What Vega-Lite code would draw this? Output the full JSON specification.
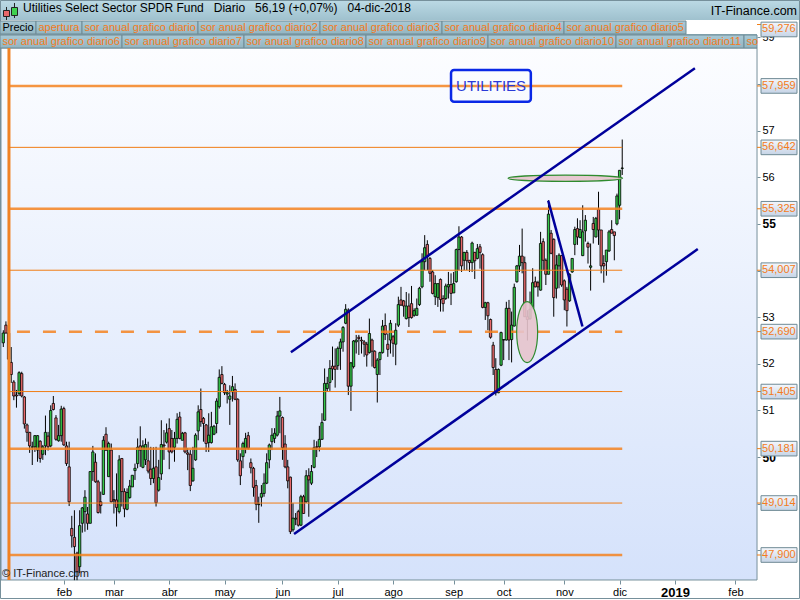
{"$schema":"https://vega.github.io/schema/vega-lite/v6.json","width":800,"height":600,"padding":0,"autosize":"none","background":"white",
"title":{"text":"Utilities Select Sector SPDR Fund\u00a0\u00a0\u00a0Diario\u00a0\u00a0\u00a056,19 (+0,07%)\u00a0\u00a0\u00a004-dic-2018","anchor":"start","frame":"group","orient":"top","offset":-15,"dx":23,"font":"Liberation Sans","fontSize":12,"fontWeight":"normal","color":"#000"},
"config":{"view":{"stroke":null},"axis":{"labelFont":"Liberation Sans","grid":false},"text":{"font":"Liberation Sans"}},
"datasets":{
"pestanas":[{"fila":1,"orden":0,"pestana":"Precio"},{"fila":1,"orden":1,"pestana":"apertura"},{"fila":1,"orden":2,"pestana":"sor anual grafico diario"},{"fila":1,"orden":3,"pestana":"sor anual grafico diario2"},{"fila":1,"orden":4,"pestana":"sor anual grafico diario3"},{"fila":1,"orden":5,"pestana":"sor anual grafico diario4"},{"fila":1,"orden":6,"pestana":"sor anual grafico diario5"},{"fila":2,"orden":0,"pestana":"sor anual grafico diario6"},{"fila":2,"orden":1,"pestana":"sor anual grafico diario7"},{"fila":2,"orden":2,"pestana":"sor anual grafico diario8"},{"fila":2,"orden":3,"pestana":"sor anual grafico diario9"},{"fila":2,"orden":4,"pestana":"sor anual grafico diario10"},{"fila":2,"orden":5,"pestana":"sor anual grafico diario11"},{"fila":2,"orden":6,"pestana":"so"}],
"niveles":[{"valor":47.9,"tipo":"grueso","etiqueta":"47,900"},{"valor":49.014,"tipo":"fino","etiqueta":"49,014"},{"valor":50.181,"tipo":"grueso","etiqueta":"50,181"},{"valor":51.405,"tipo":"fino","etiqueta":"51,405"},{"valor":52.69,"tipo":"discontinuo","etiqueta":"52,690"},{"valor":54.007,"tipo":"fino","etiqueta":"54,007"},{"valor":55.325,"tipo":"grueso","etiqueta":"55,325"},{"valor":56.642,"tipo":"fino","etiqueta":"56,642"},{"valor":57.959,"tipo":"grueso","etiqueta":"57,959"},{"valor":59.276,"tipo":"fuera","etiqueta":"59,276"}],
"lineas":[{"linea":"canal superior","n":110.2,"p":52.25},{"linea":"canal superior","n":263.6,"p":58.34},{"linea":"canal inferior","n":111.4,"p":48.35},{"linea":"canal inferior","n":264.7,"p":54.46},{"linea":"cuna","n":207.9,"p":55.5},{"linea":"cuna","n":220.9,"p":52.8}],
"velas":[
{"n":1,"o":52.45,"h":52.72,"l":52.36,"c":52.66},{"n":2,"o":52.83,"h":52.91,"l":52.65,"c":52.66},{"n":3,"o":52.66,"h":52.7,"l":52.05,"c":52.1},{"n":4,"o":52.03,"h":52.36,"l":51.59,"c":51.77},{"n":5,"o":51.61,"h":51.65,"l":51.22,"c":51.31},{"n":6,"o":51.33,"h":51.44,"l":51.06,"c":51.31},{"n":7,"o":51.36,"h":51.84,"l":51.31,"c":51.81},{"n":8,"o":51.79,"h":51.83,"l":51.28,"c":51.31},{"n":9,"o":51.29,"h":51.31,"l":50.61,"c":50.71},{"n":10,"o":50.69,"h":50.72,"l":50.33,"c":50.53},
{"n":11,"o":50.53,"h":50.54,"l":50.09,"c":50.24},{"n":12,"o":50.21,"h":50.33,"l":49.83,"c":50.22},{"n":13,"o":50.22,"h":50.47,"l":50.11,"c":50.46},{"n":14,"o":50.15,"h":50.47,"l":49.9,"c":50.46},{"n":15,"o":50.34,"h":50.36,"l":49.88,"c":49.97},{"n":16,"o":50.06,"h":50.26,"l":49.94,"c":50.22},{"n":17,"o":50.24,"h":50.89,"l":50.04,"c":50.53},{"n":18,"o":50.45,"h":50.54,"l":50.14,"c":50.22},{"n":19,"o":50.24,"h":51.11,"l":50.21,"c":51.0},{"n":20,"o":51.15,"h":51.31,"l":51.0,"c":51.02},
{"n":21,"o":50.84,"h":50.9,"l":50.35,"c":50.38},{"n":22,"o":50.35,"h":50.69,"l":50.33,"c":50.46},{"n":23,"o":50.46,"h":51.1,"l":50.33,"c":51.03},{"n":24,"o":51.04,"h":51.08,"l":50.24,"c":50.26},{"n":25,"o":50.24,"h":50.33,"l":49.81,"c":49.86},{"n":26,"o":49.79,"h":50.33,"l":48.95,"c":49.04},{"n":27,"o":48.47,"h":48.74,"l":48.06,"c":48.31},{"n":28,"o":48.28,"h":48.86,"l":47.36,"c":48.08},{"n":29,"o":47.94,"h":47.97,"l":47.36,"c":47.54},{"n":30,"o":47.65,"h":48.86,"l":47.51,"c":48.53},
{"n":31,"o":48.58,"h":48.93,"l":48.38,"c":48.91},{"n":32,"o":48.83,"h":49.29,"l":48.4,"c":49.14},{"n":33,"o":48.78,"h":48.93,"l":48.44,"c":48.58},{"n":34,"o":48.58,"h":49.69,"l":48.58,"c":49.69},{"n":35,"o":49.69,"h":50.24,"l":49.49,"c":50.11},{"n":36,"o":49.89,"h":50.08,"l":49.45,"c":49.47},{"n":37,"o":49.47,"h":49.51,"l":48.79,"c":48.81},{"n":38,"o":49.04,"h":49.26,"l":48.79,"c":48.96},{"n":39,"o":49.2,"h":50.45,"l":49.19,"c":50.36},{"n":40,"o":50.49,"h":50.64,"l":50.13,"c":50.15},
{"n":41,"o":49.58,"h":50.33,"l":49.58,"c":50.29},{"n":42,"o":50.15,"h":50.29,"l":49.03,"c":49.04},{"n":43,"o":49.09,"h":49.29,"l":48.79,"c":49.06},{"n":44,"o":49.08,"h":49.65,"l":48.51,"c":48.92},{"n":45,"o":48.83,"h":50.04,"l":48.79,"c":49.94},{"n":46,"o":49.97,"h":49.97,"l":48.94,"c":49.26},{"n":47,"o":49.26,"h":49.33,"l":48.71,"c":48.89},{"n":48,"o":48.88,"h":49.33,"l":48.86,"c":49.24},{"n":49,"o":49.13,"h":49.51,"l":49.11,"c":49.38},{"n":50,"o":49.36,"h":49.61,"l":49.36,"c":49.61},
{"n":51,"o":49.71,"h":49.86,"l":49.51,"c":49.76},{"n":52,"o":49.86,"h":50.4,"l":49.76,"c":50.21},{"n":53,"o":50.24,"h":50.66,"l":49.79,"c":50.15},{"n":54,"o":49.78,"h":50.36,"l":49.76,"c":50.24},{"n":55,"o":49.94,"h":50.4,"l":49.83,"c":50.27},{"n":56,"o":49.92,"h":50.33,"l":49.65,"c":49.7},{"n":57,"o":49.74,"h":50.22,"l":49.4,"c":49.54},{"n":58,"o":49.54,"h":50.21,"l":49.44,"c":49.76},{"n":59,"o":49.79,"h":50.22,"l":48.94,"c":49.02},{"n":60,"o":49.29,"h":49.94,"l":49.26,"c":49.56},
{"n":61,"o":49.64,"h":50.79,"l":49.51,"c":50.27},{"n":62,"o":50.26,"h":50.58,"l":49.94,"c":50.24},{"n":63,"o":50.32,"h":50.72,"l":50.29,"c":50.52},{"n":64,"o":50.61,"h":50.83,"l":49.74,"c":50.11},{"n":65,"o":50.4,"h":50.58,"l":50.08,"c":50.11},{"n":66,"o":50.21,"h":50.54,"l":49.9,"c":50.4},{"n":67,"o":50.4,"h":50.94,"l":50.29,"c":50.81},{"n":68,"o":50.86,"h":50.97,"l":50.38,"c":50.4},{"n":69,"o":50.36,"h":50.54,"l":50.36,"c":50.51},{"n":70,"o":50.52,"h":50.54,"l":50.08,"c":50.11},
{"n":71,"o":50.09,"h":50.19,"l":49.72,"c":50.06},{"n":72,"o":50.06,"h":50.15,"l":49.27,"c":49.39},{"n":73,"o":49.49,"h":50.22,"l":49.47,"c":49.76},{"n":74,"o":49.94,"h":50.51,"l":49.92,"c":50.47},{"n":75,"o":50.56,"h":51.11,"l":50.36,"c":50.97},{"n":76,"o":51.02,"h":51.47,"l":50.65,"c":50.76},{"n":77,"o":50.83,"h":50.86,"l":50.33,"c":50.72},{"n":78,"o":50.69,"h":50.71,"l":50.11,"c":50.29},{"n":79,"o":50.31,"h":50.94,"l":50.11,"c":50.47},{"n":80,"o":50.31,"h":50.97,"l":50.29,"c":50.65},
{"n":81,"o":50.49,"h":50.69,"l":50.47,"c":50.66},{"n":82,"o":50.72,"h":51.26,"l":50.51,"c":51.2},{"n":83,"o":51.08,"h":51.88,"l":51.04,"c":51.71},{"n":84,"o":51.77,"h":51.95,"l":51.56,"c":51.58},{"n":85,"o":51.56,"h":51.59,"l":51.33,"c":51.38},{"n":86,"o":51.35,"h":51.44,"l":51.15,"c":51.38},{"n":87,"o":51.24,"h":51.54,"l":50.69,"c":51.31},{"n":88,"o":51.4,"h":51.74,"l":51.19,"c":51.51},{"n":89,"o":51.45,"h":51.58,"l":51.22,"c":51.24},{"n":90,"o":51.24,"h":51.26,"l":49.9,"c":49.94},
{"n":91,"o":49.92,"h":50.08,"l":49.4,"c":49.6},{"n":92,"o":50.01,"h":50.33,"l":49.76,"c":50.29},{"n":93,"o":50.19,"h":50.52,"l":50.08,"c":50.4},{"n":94,"o":50.46,"h":50.54,"l":50.16,"c":50.19},{"n":95,"o":49.88,"h":49.97,"l":49.65,"c":49.77},{"n":96,"o":49.76,"h":49.79,"l":49.15,"c":49.35},{"n":97,"o":49.39,"h":49.51,"l":48.86,"c":48.99},{"n":98,"o":48.98,"h":49.15,"l":48.59,"c":48.99},{"n":99,"o":49.14,"h":49.4,"l":48.94,"c":49.22},{"n":100,"o":49.22,"h":49.65,"l":49.15,"c":49.44},
{"n":101,"o":49.44,"h":50.08,"l":49.42,"c":49.88},{"n":102,"o":49.94,"h":50.29,"l":49.76,"c":50.26},{"n":103,"o":50.33,"h":50.62,"l":50.15,"c":50.47},{"n":104,"o":50.4,"h":50.62,"l":50.3,"c":50.51},{"n":105,"o":50.47,"h":50.99,"l":50.44,"c":50.88},{"n":106,"o":50.88,"h":51.29,"l":50.51,"c":50.99},{"n":107,"o":50.85,"h":50.87,"l":49.94,"c":50.2},{"n":108,"o":50.28,"h":50.47,"l":49.76,"c":49.79},{"n":109,"o":49.79,"h":49.94,"l":49.33,"c":49.49},{"n":110,"o":49.57,"h":49.58,"l":48.35,"c":48.4},
{"n":111,"o":48.44,"h":49.01,"l":48.4,"c":48.69},{"n":112,"o":48.67,"h":48.8,"l":48.54,"c":48.69},{"n":113,"o":48.83,"h":48.87,"l":48.51,"c":48.54},{"n":114,"o":48.54,"h":49.19,"l":48.52,"c":49.15},{"n":115,"o":49.15,"h":49.19,"l":48.79,"c":48.79},{"n":116,"o":49.04,"h":49.72,"l":49.02,"c":49.6},{"n":117,"o":49.6,"h":49.76,"l":48.72,"c":49.51},{"n":118,"o":49.44,"h":49.83,"l":49.4,"c":49.69},{"n":119,"o":49.78,"h":50.37,"l":49.76,"c":50.2},{"n":120,"o":50.22,"h":50.34,"l":50.0,"c":50.21},
{"n":121,"o":50.22,"h":50.67,"l":50.12,"c":50.38},{"n":122,"o":50.38,"h":50.94,"l":50.37,"c":50.74},{"n":123,"o":50.79,"h":51.9,"l":50.78,"c":51.58},{"n":124,"o":51.47,"h":51.72,"l":51.4,"c":51.58},{"n":125,"o":51.6,"h":52.08,"l":51.42,"c":51.9},{"n":126,"o":51.95,"h":52.37,"l":51.65,"c":51.89},{"n":127,"o":51.95,"h":52.33,"l":51.49,"c":51.88},{"n":128,"o":51.96,"h":52.37,"l":51.87,"c":52.33},{"n":129,"o":52.33,"h":52.54,"l":51.87,"c":52.47},{"n":130,"o":52.47,"h":52.81,"l":52.26,"c":52.78},
{"n":131,"o":52.87,"h":53.28,"l":52.85,"c":53.17},{"n":132,"o":53.15,"h":53.19,"l":51.33,"c":51.52},{"n":133,"o":51.52,"h":52.04,"l":50.99,"c":52.02},{"n":134,"o":51.94,"h":52.51,"l":51.9,"c":52.49},{"n":135,"o":52.47,"h":52.62,"l":52.22,"c":52.51},{"n":136,"o":52.57,"h":52.62,"l":52.19,"c":52.54},{"n":137,"o":52.51,"h":52.58,"l":52.22,"c":52.49},{"n":138,"o":52.47,"h":52.51,"l":52.15,"c":52.42},{"n":139,"o":52.42,"h":52.47,"l":51.94,"c":52.19},{"n":140,"o":52.24,"h":52.97,"l":52.22,"c":52.65},
{"n":141,"o":52.51,"h":52.54,"l":51.94,"c":52.27},{"n":142,"o":52.27,"h":52.29,"l":51.9,"c":51.92},{"n":143,"o":51.77,"h":52.12,"l":51.17,"c":52.08},{"n":144,"o":52.09,"h":52.26,"l":51.76,"c":52.24},{"n":145,"o":52.24,"h":52.94,"l":52.22,"c":52.81},{"n":146,"o":52.82,"h":53.08,"l":52.51,"c":52.63},{"n":147,"o":52.42,"h":52.65,"l":52.15,"c":52.31},{"n":148,"o":52.51,"h":52.94,"l":52.22,"c":52.87},{"n":149,"o":52.58,"h":52.62,"l":52.15,"c":52.44},{"n":150,"o":52.42,"h":52.87,"l":51.97,"c":52.72},
{"n":151,"o":52.83,"h":53.44,"l":52.79,"c":53.27},{"n":152,"o":53.37,"h":53.65,"l":53.24,"c":53.26},{"n":153,"o":53.35,"h":53.37,"l":53.01,"c":53.24},{"n":154,"o":52.97,"h":53.54,"l":52.95,"c":53.24},{"n":155,"o":53.24,"h":53.51,"l":52.79,"c":52.99},{"n":156,"o":53.29,"h":53.67,"l":52.97,"c":52.99},{"n":157,"o":53.04,"h":53.19,"l":53.01,"c":53.14},{"n":158,"o":53.04,"h":53.4,"l":53.04,"c":53.19},{"n":159,"o":53.27,"h":53.65,"l":53.24,"c":53.62},{"n":160,"o":53.65,"h":54.37,"l":53.62,"c":54.19},
{"n":161,"o":54.19,"h":54.76,"l":54.01,"c":54.49},{"n":162,"o":54.56,"h":54.65,"l":54.01,"c":54.29},{"n":163,"o":54.26,"h":54.29,"l":53.76,"c":53.94},{"n":164,"o":53.97,"h":54.01,"l":53.49,"c":53.51},{"n":165,"o":53.44,"h":53.9,"l":53.26,"c":53.72},{"n":166,"o":53.42,"h":53.72,"l":53.22,"c":53.72},{"n":167,"o":53.81,"h":53.83,"l":53.12,"c":53.38},{"n":168,"o":53.4,"h":53.47,"l":53.12,"c":53.29},{"n":169,"o":53.4,"h":53.72,"l":53.37,"c":53.67},{"n":170,"o":53.65,"h":53.97,"l":53.4,"c":53.7},
{"n":171,"o":53.7,"h":53.94,"l":53.26,"c":53.51},{"n":172,"o":53.52,"h":53.97,"l":53.52,"c":53.72},{"n":173,"o":53.76,"h":54.47,"l":53.74,"c":54.45},{"n":174,"o":54.45,"h":54.95,"l":54.01,"c":54.72},{"n":175,"o":54.72,"h":54.74,"l":53.97,"c":54.1},{"n":176,"o":54.22,"h":54.4,"l":54.01,"c":54.39},{"n":177,"o":54.39,"h":54.44,"l":54.01,"c":54.21},{"n":178,"o":54.22,"h":54.22,"l":53.97,"c":54.17},{"n":179,"o":54.17,"h":54.62,"l":53.97,"c":54.59},{"n":180,"o":54.39,"h":54.4,"l":53.82,"c":54.21},
{"n":181,"o":54.26,"h":54.57,"l":54.24,"c":54.47},{"n":182,"o":54.51,"h":54.57,"l":54.04,"c":54.39},{"n":183,"o":54.34,"h":54.37,"l":53.19,"c":53.21},{"n":184,"o":53.21,"h":53.33,"l":52.94,"c":53.31},{"n":185,"o":53.31,"h":53.33,"l":52.72,"c":53.03},{"n":186,"o":52.95,"h":52.97,"l":52.54,"c":52.57},{"n":187,"o":52.4,"h":52.47,"l":51.76,"c":51.92},{"n":188,"o":51.88,"h":52.12,"l":51.32,"c":51.38},{"n":189,"o":51.38,"h":51.9,"l":51.37,"c":51.88},{"n":190,"o":51.97,"h":52.69,"l":51.95,"c":52.67},
{"n":191,"o":52.51,"h":52.52,"l":52.08,"c":52.52},{"n":192,"o":52.51,"h":53.33,"l":52.5,"c":53.19},{"n":193,"o":53.19,"h":53.37,"l":52.08,"c":52.51},{"n":194,"o":52.52,"h":53.12,"l":52.03,"c":52.83},{"n":195,"o":52.81,"h":53.72,"l":52.8,"c":53.64},{"n":196,"o":53.76,"h":54.12,"l":53.74,"c":54.1},{"n":197,"o":54.1,"h":54.55,"l":53.97,"c":54.31},{"n":198,"o":54.31,"h":54.9,"l":53.94,"c":54.17},{"n":199,"o":54.17,"h":54.3,"l":53.01,"c":53.01},{"n":200,"o":53.01,"h":53.15,"l":52.5,"c":52.95},
{"n":201,"o":52.97,"h":53.55,"l":52.94,"c":53.17},{"n":202,"o":53.19,"h":54.05,"l":53.19,"c":53.74},{"n":203,"o":53.76,"h":53.87,"l":53.64,"c":53.65},{"n":204,"o":53.74,"h":53.78,"l":53.44,"c":53.65},{"n":205,"o":53.58,"h":54.83,"l":53.57,"c":54.58},{"n":206,"o":54.62,"h":54.69,"l":54.01,"c":54.22},{"n":207,"o":54.22,"h":54.26,"l":53.69,"c":53.92},{"n":208,"o":53.92,"h":55.51,"l":53.92,"c":55.21},{"n":209,"o":54.8,"h":54.87,"l":54.35,"c":54.37},{"n":210,"o":54.67,"h":54.69,"l":53.01,"c":53.42},
{"n":211,"o":53.62,"h":54.33,"l":53.4,"c":54.12},{"n":212,"o":54.1,"h":54.37,"l":53.62,"c":54.33},{"n":213,"o":54.32,"h":54.33,"l":53.65,"c":53.69},{"n":214,"o":53.78,"h":53.81,"l":53.15,"c":53.37},{"n":215,"o":53.6,"h":53.65,"l":52.8,"c":53.14},{"n":216,"o":53.35,"h":53.94,"l":53.33,"c":53.92},{"n":217,"o":53.97,"h":54.26,"l":53.95,"c":54.26},{"n":218,"o":54.56,"h":54.94,"l":54.33,"c":54.88},{"n":219,"o":54.9,"h":55.12,"l":54.55,"c":54.72},{"n":220,"o":54.71,"h":55.08,"l":54.69,"c":54.88},
{"n":221,"o":54.32,"h":55.4,"l":54.31,"c":54.83},{"n":222,"o":54.85,"h":55.19,"l":54.62,"c":55.08},{"n":223,"o":54.58,"h":54.62,"l":54.15,"c":54.5},{"n":224,"o":54.07,"h":54.58,"l":53.57,"c":54.1},{"n":225,"o":55.01,"h":55.15,"l":54.58,"c":54.88},{"n":226,"o":54.72,"h":55.15,"l":54.71,"c":55.12},{"n":227,"o":55.31,"h":55.69,"l":54.55,"c":54.87},{"n":228,"o":54.87,"h":54.87,"l":53.94,"c":54.1},{"n":229,"o":54.15,"h":54.33,"l":53.74,"c":54.1},{"n":230,"o":54.19,"h":54.44,"l":53.89,"c":54.44},
{"n":231,"o":54.42,"h":54.87,"l":54.4,"c":54.83},{"n":232,"o":54.88,"h":55.08,"l":54.8,"c":54.8},{"n":233,"o":54.83,"h":54.83,"l":54.22,"c":54.75},{"n":234,"o":55.0,"h":55.65,"l":54.97,"c":55.6},{"n":235,"o":55.4,"h":56.15,"l":55.1,"c":56.15},{"n":236,"o":56.19,"h":56.81,"l":56.05,"c":56.2}
]},
"layer":[
{"data":{"values":[{"zona":"grafico"}]},"mark":{"type":"rect","fill":{"gradient":"linear","x1":0,"y1":0,"x2":0,"y2":1,"stops":[{"offset":0,"color":"#fcfdff"},{"offset":1,"color":"#d5e2fb"}]},"stroke":"#76909b","strokeWidth":1},"encoding":{
 "x":{"datum":0.127,"type":"quantitative","scale":{"domain":[-0.253,303.5],"nice":false,"zero":false,"padding":0},"axis":{"orient":"bottom","offset":-20,"values":[24,43,64,85,107,128,149,172,191,214,235,256,279],"labelExpr":"['feb','mar','abr','may','jun','jul','ago','sep','oct','nov','dic','2019','feb'][indexof([24,43,64,85,107,128,149,172,191,214,235,256,279],datum.value)]","domain":false,"ticks":true,"tickSize":4,"tickColor":"#76909b","labelColor":"#000","labelFontSize":{"expr":"datum.value==256?13:11"},"labelFontWeight":{"expr":"datum.value==256?'bold':'normal'"},"labelPadding":2,"labelFlush":false,"labelOverlap":false,"title":null}},
 "x2":{"datum":287.18},
 "y":{"datum":47.364,"type":"quantitative","scale":{"domain":[46.935,59.802],"nice":false,"zero":false},"axis":{"orient":"right","offset":-43,"values":[48,49,50,51,52,53,54,55,56,57,58,59],"labelExpr":"indexof([48,49,54,58],datum.value)>=0?'':toString(datum.value)","domain":false,"ticks":true,"tickSize":3,"tickColor":"#76909b","labelColor":"#000","labelFontSize":{"expr":"datum.value==50||datum.value==55?12:11"},"labelFontWeight":{"expr":"datum.value==50||datum.value==55?'bold':'normal'"},"labelPadding":2,"labelFlush":false,"labelOverlap":false,"title":null}},
 "y2":{"datum":58.773}}},
{"data":{"values":[{"zona":"cabecera"}]},"mark":{"type":"rect","fill":{"gradient":"linear","x1":0,"y1":0,"x2":0,"y2":1,"stops":[{"offset":0,"color":"#bcdae5"},{"offset":1,"color":"#9fc1ce"}]}},"encoding":{"x":{"datum":-0.253,"type":"quantitative"},"x2":{"datum":303.5},"y":{"datum":59.802,"type":"quantitative"},"y2":{"datum":59.373}}},
{"data":{"values":[{"zona":"marco"}]},"mark":{"type":"rect","fill":null,"stroke":"#76909b","strokeWidth":1},"encoding":{"x":{"datum":-0.063,"type":"quantitative"},"x2":{"datum":303.31},"y":{"datum":59.791,"type":"quantitative"},"y2":{"datum":46.967}}},
{"data":{"values":[{"zona":"fila 2"}]},"mark":{"type":"rect","fill":"#8fb1be"},"encoding":{"x":{"datum":-0.253,"type":"quantitative"},"x2":{"datum":287.18},"y":{"datum":59.073,"type":"quantitative"},"y2":{"datum":58.773}}},
{"data":{"name":"pestanas"},"transform":[{"calculate":"length(datum.pestana)==2?13:(length(datum.pestana)<=8?5*length(datum.pestana)+6:6*length(datum.pestana)-28)","as":"ancho"},{"window":[{"op":"sum","field":"ancho","as":"fin"}],"groupby":["fila"],"sort":[{"field":"orden","order":"ascending"}]},{"calculate":"(datum.fin-datum.ancho)/2.6337-0.253","as":"inicio"},{"calculate":"datum.fin/2.6337-0.253","as":"final"},{"calculate":"59.802-0.021445*(21+14*(datum.fila-1))","as":"arriba"},{"calculate":"datum.arriba-0.021445*13","as":"abajo"},{"calculate":"datum.inicio+0.95","as":"xtexto"},{"calculate":"datum.arriba-0.021445*6.8","as":"ytexto"}],
 "layer":[
 {"mark":{"type":"rect","fill":{"gradient":"linear","x1":0,"y1":0,"x2":0,"y2":1,"stops":[{"offset":0,"color":"#a9c9d5"},{"offset":1,"color":"#93b5c1"}]},"stroke":"#6f8a95","strokeWidth":1},"encoding":{"x":{"field":"inicio","type":"quantitative"},"x2":{"field":"final"},"y":{"field":"arriba","type":"quantitative"},"y2":{"field":"abajo"}}},
 {"mark":{"type":"text","align":"left","baseline":"middle","fontSize":11},"encoding":{"x":{"field":"xtexto","type":"quantitative"},"y":{"field":"ytexto","type":"quantitative"},"text":{"field":"pestana"},"color":{"condition":{"test":"datum.pestana==='Precio'","value":"#000"},"value":"#f47b20"}}}
 ]},
{"data":{"values":[{"texto":"IT-Finance.com"}]},"mark":{"type":"text","align":"right","baseline":"middle","fontSize":12.5,"color":"#000"},"encoding":{"x":{"datum":302.36,"type":"quantitative"},"y":{"datum":59.566,"type":"quantitative"},"text":{"field":"texto"}}},
{"data":{"values":[{"i":"baja"}]},"mark":{"type":"rule","color":"#222","strokeWidth":1},"encoding":{"x":{"datum":2.215,"type":"quantitative"},"y":{"datum":59.652,"type":"quantitative"},"y2":{"datum":59.373}}},
{"data":{"values":[{"i":"baja"}]},"mark":{"type":"rect","fill":"#e8686a","stroke":"#222","strokeWidth":1},"encoding":{"x":{"datum":1.076,"type":"quantitative"},"x2":{"datum":3.354},"y":{"datum":59.577,"type":"quantitative"},"y2":{"datum":59.448}}},
{"data":{"values":[{"i":"sube"}]},"mark":{"type":"rule","color":"#222","strokeWidth":1},"encoding":{"x":{"datum":5.252,"type":"quantitative"},"y":{"datum":59.738,"type":"quantitative"},"y2":{"datum":59.416}}},
{"data":{"values":[{"i":"sube"}]},"mark":{"type":"rect","fill":"#3fd24f","stroke":"#222","strokeWidth":1},"encoding":{"x":{"datum":4.114,"type":"quantitative"},"x2":{"datum":6.392},"y":{"datum":59.641,"type":"quantitative"},"y2":{"datum":59.47}}},
{"data":{"name":"velas"},"mark":{"type":"rule","color":"#000","strokeWidth":1},"encoding":{"x":{"field":"n","type":"quantitative"},"y":{"field":"l","type":"quantitative"},"y2":{"field":"h"}}},
{"data":{"name":"velas"},"transform":[{"calculate":"datum.c>=datum.o?'sube':'baja'","as":"sentido"}],"mark":{"type":"bar","width":2.3,"stroke":"#000","strokeWidth":0.8},"encoding":{"x":{"field":"n","type":"quantitative"},"y":{"field":"o","type":"quantitative"},"y2":{"field":"c"},"fill":{"field":"sentido","type":"nominal","scale":{"domain":["sube","baja"],"range":["#35c84a","#e8686a"]},"legend":null}}},
{"data":{"values":[{"serie":"apertura"}]},"mark":{"type":"rule","color":"#f08224","strokeWidth":3},"encoding":{"x":{"datum":3.15,"type":"quantitative"},"y":{"datum":47.364,"type":"quantitative"},"y2":{"datum":58.773}}},
{"data":{"name":"niveles"},"transform":[{"filter":"datum.tipo==='fino'"}],"mark":{"type":"rule","color":"#f07d14","strokeWidth":1},"encoding":{"x":{"datum":3.15,"type":"quantitative"},"x2":{"datum":236},"y":{"field":"valor","type":"quantitative"}}},
{"data":{"name":"niveles"},"transform":[{"filter":"datum.tipo==='grueso'"}],"mark":{"type":"rule","color":"#f58320","strokeWidth":2.5,"opacity":0.85},"encoding":{"x":{"datum":3.15,"type":"quantitative"},"x2":{"datum":236},"y":{"field":"valor","type":"quantitative"}}},
{"data":{"name":"niveles"},"transform":[{"filter":"datum.tipo==='discontinuo'"}],"mark":{"type":"rule","color":"#f58320","strokeWidth":2.5,"opacity":0.85,"strokeDash":[13,13],"strokeDashOffset":18},"encoding":{"x":{"datum":3.15,"type":"quantitative"},"x2":{"datum":236},"y":{"field":"valor","type":"quantitative"}}},
{"data":{"values":[{"n":214.4,"p":55.98}]},"mark":{"type":"point","filled":true,"opacity":1,"shape":"M-1,0A1,0.054 0 1,1 1,0A1,0.054 0 1,1 -1,0Z","size":13133,"fill":"#e6c3cc","fillOpacity":0.9,"stroke":"#2e8b2e","strokeWidth":1.2,"strokeOpacity":1},"encoding":{"x":{"field":"n","type":"quantitative"},"y":{"field":"p","type":"quantitative"}}},
{"data":{"values":[{"n":199.9,"p":52.68}]},"mark":{"type":"point","filled":true,"opacity":1,"shape":"M-0.344,0A0.344,1 0 1,1 0.344,0A0.344,1 0 1,1 -0.344,0Z","size":3721,"fill":"#e6c3cc","fillOpacity":0.9,"stroke":"#2e8b2e","strokeWidth":1.2,"strokeOpacity":1},"encoding":{"x":{"field":"n","type":"quantitative"},"y":{"field":"p","type":"quantitative"}}},
{"data":{"name":"lineas"},"mark":{"type":"line","color":"#00009b","strokeWidth":2.5},"encoding":{"x":{"field":"n","type":"quantitative"},"y":{"field":"p","type":"quantitative"},"detail":{"field":"linea"}}},
{"data":{"values":[{"texto":"UTILITIES"}]},"mark":{"type":"rect","fill":null,"stroke":"#0a28e6","strokeWidth":2.5,"cornerRadius":3},"encoding":{"x":{"datum":171.0,"type":"quantitative"},"x2":{"datum":201.3},"y":{"datum":58.3,"type":"quantitative"},"y2":{"datum":57.62}}},
{"data":{"values":[{"texto":"UTILITIES"}]},"mark":{"type":"text","align":"center","baseline":"middle","fontSize":15,"color":"#2a3ad8"},"encoding":{"x":{"datum":186.2,"type":"quantitative"},"y":{"datum":57.96,"type":"quantitative"},"text":{"field":"texto"}}},
{"data":{"values":[{"texto":"© IT-Finance.com"}]},"mark":{"type":"text","align":"left","baseline":"middle","fontSize":11,"color":"#222"},"encoding":{"x":{"datum":0.5,"type":"quantitative"},"y":{"datum":47.5,"type":"quantitative"},"text":{"field":"texto"}}},
{"data":{"name":"niveles"},"mark":{"type":"rule","color":"#f07d14","strokeWidth":1},"encoding":{"x":{"datum":287.18,"type":"quantitative"},"x2":{"datum":288.7},"y":{"field":"valor","type":"quantitative"}}},
{"data":{"name":"niveles"},"transform":[{"calculate":"min(datum.valor,59.17)","as":"pos"},{"calculate":"datum.pos+0.157","as":"arriba"},{"calculate":"datum.pos-0.157","as":"abajo"}],"layer":[
 {"mark":{"type":"rect","fill":{"gradient":"linear","x1":0,"y1":0,"x2":0,"y2":1,"stops":[{"offset":0,"color":"#f4f7fc"},{"offset":1,"color":"#c6d4e6"}]},"stroke":"#6f8a95","strokeWidth":1},"encoding":{"x":{"datum":288.7,"type":"quantitative"},"x2":{"datum":302.36},"y":{"field":"arriba","type":"quantitative"},"y2":{"field":"abajo"}}},
 {"mark":{"type":"text","align":"left","baseline":"middle","fontSize":11,"color":"#f47b20"},"encoding":{"x":{"datum":289.1,"type":"quantitative"},"y":{"field":"pos","type":"quantitative"},"text":{"field":"etiqueta"}}}
]}
]}
